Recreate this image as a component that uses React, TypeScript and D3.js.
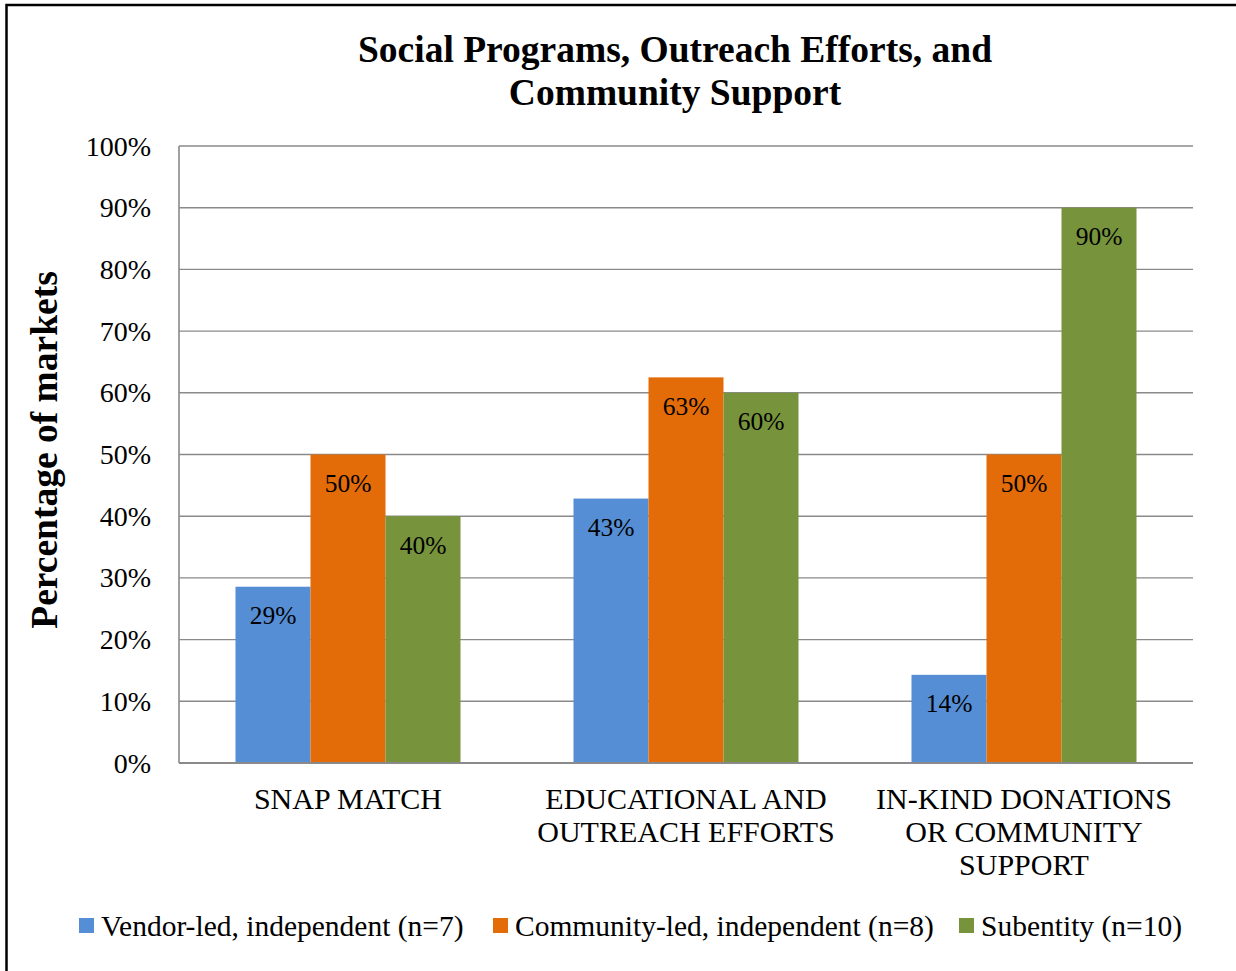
import React from "react";
import * as d3 from "d3";

const categories: string[][] = [
  ["SNAP MATCH"],
  ["EDUCATIONAL AND", "OUTREACH EFFORTS"],
  ["IN-KIND DONATIONS", "OR COMMUNITY", "SUPPORT"],
];
const seriesNames = [
  "Vendor-led, independent (n=7)",
  "Community-led, independent (n=8)",
  "Subentity (n=10)",
];
const vendorLed = [0.2857, 0.4286, 0.1429];
const communityLed = [0.5, 0.625, 0.5];
const subentity = [0.4, 0.6, 0.9];
const seriesColors = ["#558ED5", "#E36C09", "#77933C"];
const yTicks = [0, 0.1, 0.2, 0.3, 0.4, 0.5, 0.6, 0.7, 0.8, 0.9, 1.0];
const titleLines = ["Social Programs, Outreach Efforts, and", "Community Support"];
const yTitle = "Percentage of markets";

const W = 1236;
const H = 971;
const FONT = "'Times New Roman', 'Liberation Serif', serif";

export default function App() {
  const left = 179, right = 1193, top = 146, bottom = 763;
  const series = [vendorLed, communityLed, subentity];
  const x0 = d3
    .scaleBand<number>()
    .domain(categories.map((_, i) => i))
    .range([left, right])
    .paddingInner(113 / 338)
    .paddingOuter(56.5 / 338);
  const x1 = d3
    .scaleBand<number>()
    .domain(series.map((_, i) => i))
    .range([0, x0.bandwidth()]);
  const y = d3.scaleLinear().domain([0, 1]).range([bottom, top]);
  const fmt = d3.format(".0%");
  const legendX = [79, 493, 959];

  return (
    <svg
      width={W}
      height={H}
      style={{ position: "absolute", left: 0, top: 0, background: "#fff" }}
      fontFamily={FONT}
    >
      <rect x={0} y={0} width={W} height={H} fill="#fff" />
      <rect x={6.5} y={5} width={W + 50} height={H + 50} fill="none" stroke="#000" strokeWidth={2.5} />

      {/* title */}
      {titleLines.map((t, i) => (
        <text key={i} x={675} y={62 + i * 43} textAnchor="middle" fontSize={37.5} fontWeight="bold" fill="#000">
          {t}
        </text>
      ))}

      {/* gridlines */}
      {yTicks.map((t) => (
        <line key={t} x1={left} x2={right} y1={y(t)} y2={y(t)} stroke="#8a8a8a" strokeWidth={1.4} />
      ))}
      <line x1={left} x2={left} y1={top} y2={bottom} stroke="#8a8a8a" strokeWidth={1.6} />

      {/* y tick labels */}
      {yTicks.map((t) => (
        <text key={t} x={151} y={y(t) + 9.5} textAnchor="end" fontSize={28} fill="#000">
          {fmt(t)}
        </text>
      ))}

      {/* bars */}
      {categories.map((_, ci) =>
        series.map((s, si) => {
          const bx = (x0(ci) ?? 0) + (x1(si) ?? 0);
          const by = y(s[ci]);
          return (
            <g key={`${ci}-${si}`}>
              <rect x={bx} y={by} width={x1.bandwidth()} height={bottom - by} fill={seriesColors[si]} />
              <text x={bx + x1.bandwidth() / 2} y={by + 37.5} textAnchor="middle" fontSize={25.5} fill="#000">
                {fmt(s[ci])}
              </text>
            </g>
          );
        })
      )}
      <line x1={left} x2={right} y1={bottom} y2={bottom} stroke="#8a8a8a" strokeWidth={1.8} />

      {/* category labels */}
      {categories.map((lines, ci) =>
        lines.map((l, li) => (
          <text
            key={`${ci}-${li}`}
            x={(x0(ci) ?? 0) + x0.bandwidth() / 2}
            y={809 + li * 33}
            textAnchor="middle"
            fontSize={30}
            fill="#000"
          >
            {l}
          </text>
        ))
      )}

      {/* y axis title */}
      <text
        transform={`translate(57, 450) rotate(-90)`}
        textAnchor="middle"
        fontSize={37.5}
        fontWeight="bold"
        fill="#000"
      >
        {yTitle}
      </text>

      {/* legend */}
      {seriesNames.map((n, i) => (
        <g key={n}>
          <rect x={legendX[i]} y={918} width={15} height={15} fill={seriesColors[i]} />
          <text x={legendX[i] + 22} y={936} fontSize={29.5} fill="#000">
            {n}
          </text>
        </g>
      ))}
    </svg>
  );
}
